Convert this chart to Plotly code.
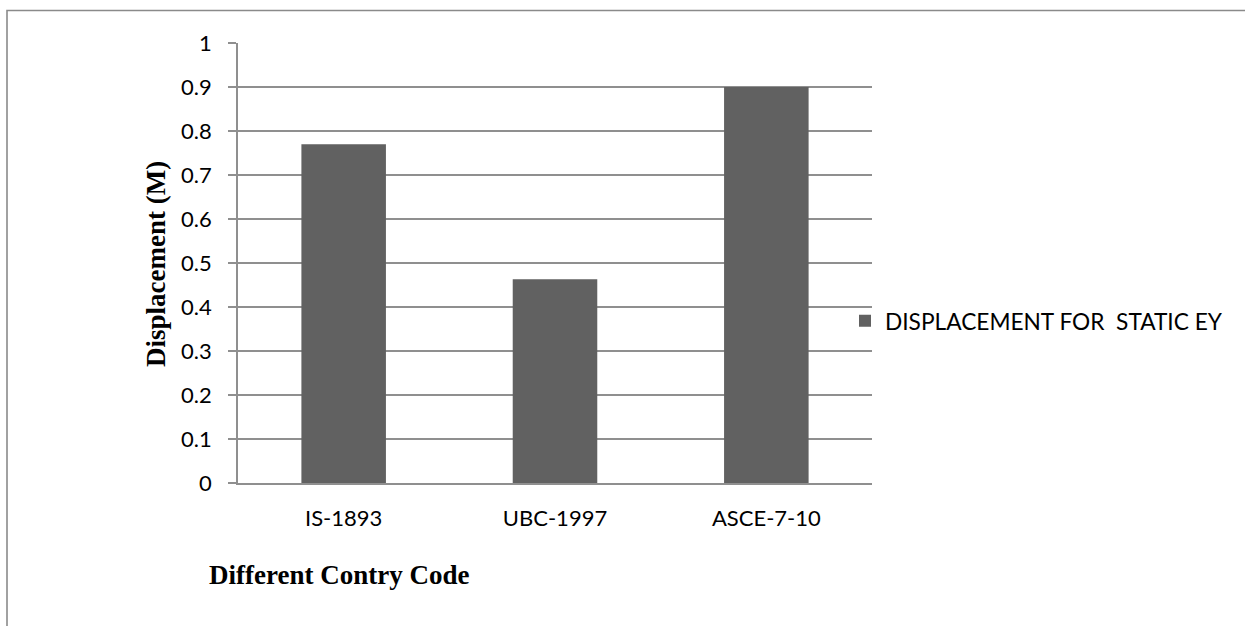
import plotly.graph_objects as go

W, H = 1245, 626

codes = ["IS-1893", "UBC-1997", "ASCE-7-10"]
displacement = [0.77, 0.463, 0.90]
series_name = "DISPLACEMENT FOR  STATIC EY"

# plot area in pixels
L, R, T, B = 238, 872, 43, 483


def px_x(p):
    return (p - L) / (R - L)


def px_y(p):
    return (B - p) / (B - T)


fig = go.Figure(
    go.Bar(
        x=codes,
        y=displacement,
        name=series_name,
        marker=dict(color="#616161", line=dict(width=0)),
        width=0.4,
        showlegend=True,
    )
)

tick_font = dict(family="Lato, Open Sans, sans-serif", size=22, color="#000000")
legend_font = dict(family="Lato, Open Sans, sans-serif", size=22.7, color="#000000")
title_font = dict(family="Liberation Serif, serif", size=27, color="#000000")

fig.update_layout(
    width=W,
    height=H,
    margin=dict(l=L, r=W - R, t=T, b=H - B, pad=0),
    paper_bgcolor="white",
    plot_bgcolor="white",
    showlegend=True,
    legend=dict(
        x=px_x(845),
        y=px_y(321),
        xanchor="left",
        yanchor="middle",
        font=legend_font,
        bgcolor="rgba(0,0,0,0)",
    ),
    xaxis=dict(
        showgrid=False,
        showline=True,
        linecolor="#8f8f8f",
        linewidth=1.6,
        ticks="",
        tickfont=tick_font,
        ticklabelstandoff=15,
    ),
    yaxis=dict(
        range=[0, 1],
        dtick=0.1,
        tick0=0,
        showgrid=True,
        gridcolor="#8f8f8f",
        gridwidth=1.6,
        zeroline=False,
        showline=True,
        linecolor="#8f8f8f",
        linewidth=1.6,
        ticks="outside",
        ticklen=8,
        tickwidth=1.6,
        tickcolor="#8f8f8f",
        tickfont=tick_font,
        ticklabelstandoff=12,
    ),
    annotations=[
        dict(
            text="<b>Displacement (M)</b>",
            xref="paper", yref="paper",
            x=px_x(156), y=px_y(264),
            xanchor="center", yanchor="middle",
            textangle=-90, showarrow=False,
            font=title_font,
        ),
        dict(
            text="<b>Different Contry Code</b>",
            xref="paper", yref="paper",
            x=px_x(207), y=px_y(575),
            xanchor="left", yanchor="middle",
            showarrow=False,
            font=title_font,
        ),
    ],
    shapes=[
        dict(
            type="rect", xref="paper", yref="paper",
            x0=px_x(7), x1=px_x(1260), y0=px_y(640), y1=px_y(10.5),
            line=dict(color="#8a8a8a", width=1.6),
            fillcolor="rgba(0,0,0,0)",
            layer="below",
        )
    ],
)

# page body has a default 8px margin; drop it so the chart sits at 0,0
fig.write_html(
    "out.html",
    config={"displayModeBar": False},
    post_script="document.body.style.margin='0';",
)
